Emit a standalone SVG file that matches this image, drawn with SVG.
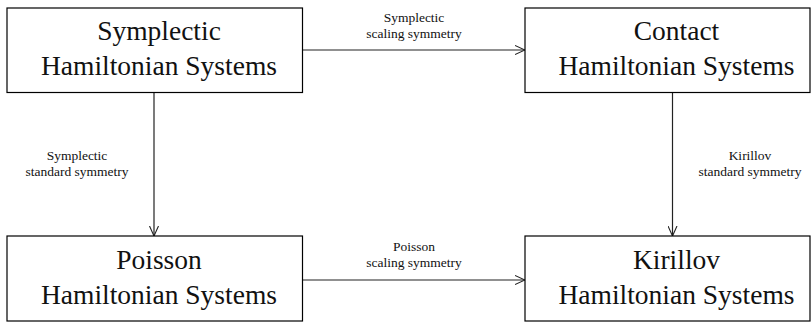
<svg xmlns="http://www.w3.org/2000/svg" width="811" height="323" viewBox="0 0 811 323">
<defs>
<style>
.box{fill:#fff;stroke:#000;stroke-width:1.2}
.big{font-family:'Liberation Serif',serif;font-size:27.5px;fill:#111;text-anchor:middle}
.small{font-family:'Liberation Serif',serif;font-size:13.5px;fill:#111;text-anchor:middle}
.edge{stroke:#222;stroke-width:1.2;fill:none;marker-end:url(#arr)}
</style>
<marker id="arr" viewBox="0 0 10 10" refX="10" refY="5" markerWidth="10" markerHeight="10" markerUnits="userSpaceOnUse" orient="auto">
<path d="M0,0.5 L10,5 L0,9.5" fill="none" stroke="#222" stroke-width="1.1"/>
</marker>
</defs>
<g id="connectors">
<line class="edge" x1="303" y1="50" x2="525" y2="50"/>
<line class="edge" x1="303" y1="280" x2="525" y2="280"/>
<line class="edge" x1="154" y1="92" x2="154" y2="236"/>
<line class="edge" x1="672.5" y1="92" x2="672.5" y2="236"/>
<text class="small" x="414" y="22" font-family="Liberation Serif">Symplectic</text>
<text class="small" x="414" y="38" font-family="Liberation Serif">scaling symmetry</text>
<text class="small" x="414" y="251" font-family="Liberation Serif">Poisson</text>
<text class="small" x="414" y="267" font-family="Liberation Serif">scaling symmetry</text>
<text class="small" x="77" y="160" font-family="Liberation Serif">Symplectic</text>
<text class="small" x="77" y="176" font-family="Liberation Serif">standard symmetry</text>
<text class="small" x="750" y="160" font-family="Liberation Serif">Kirillov</text>
<text class="small" x="750" y="176" font-family="Liberation Serif">standard symmetry</text>
</g>
<g id="symplectic">
<rect class="box" x="7" y="8" width="295.5" height="84.5"/>
<text class="big" x="159" y="39.5" font-family="Liberation Serif">Symplectic</text>
<text class="big" x="159" y="75" font-family="Liberation Serif">Hamiltonian Systems</text>
</g>
<g id="contact">
<rect class="box" x="525" y="8" width="285" height="84.5"/>
<text class="big" x="676.5" y="39.5" font-family="Liberation Serif">Contact</text>
<text class="big" x="676.5" y="75" font-family="Liberation Serif">Hamiltonian Systems</text>
</g>
<g id="poisson">
<rect class="box" x="7" y="236" width="295.5" height="85"/>
<text class="big" x="159" y="269" font-family="Liberation Serif">Poisson</text>
<text class="big" x="159" y="303.5" font-family="Liberation Serif">Hamiltonian Systems</text>
</g>
<g id="kirillov">
<rect class="box" x="525" y="236" width="285" height="85"/>
<text class="big" x="676.5" y="269" font-family="Liberation Serif">Kirillov</text>
<text class="big" x="676.5" y="303.5" font-family="Liberation Serif">Hamiltonian Systems</text>
</g>
</svg>
